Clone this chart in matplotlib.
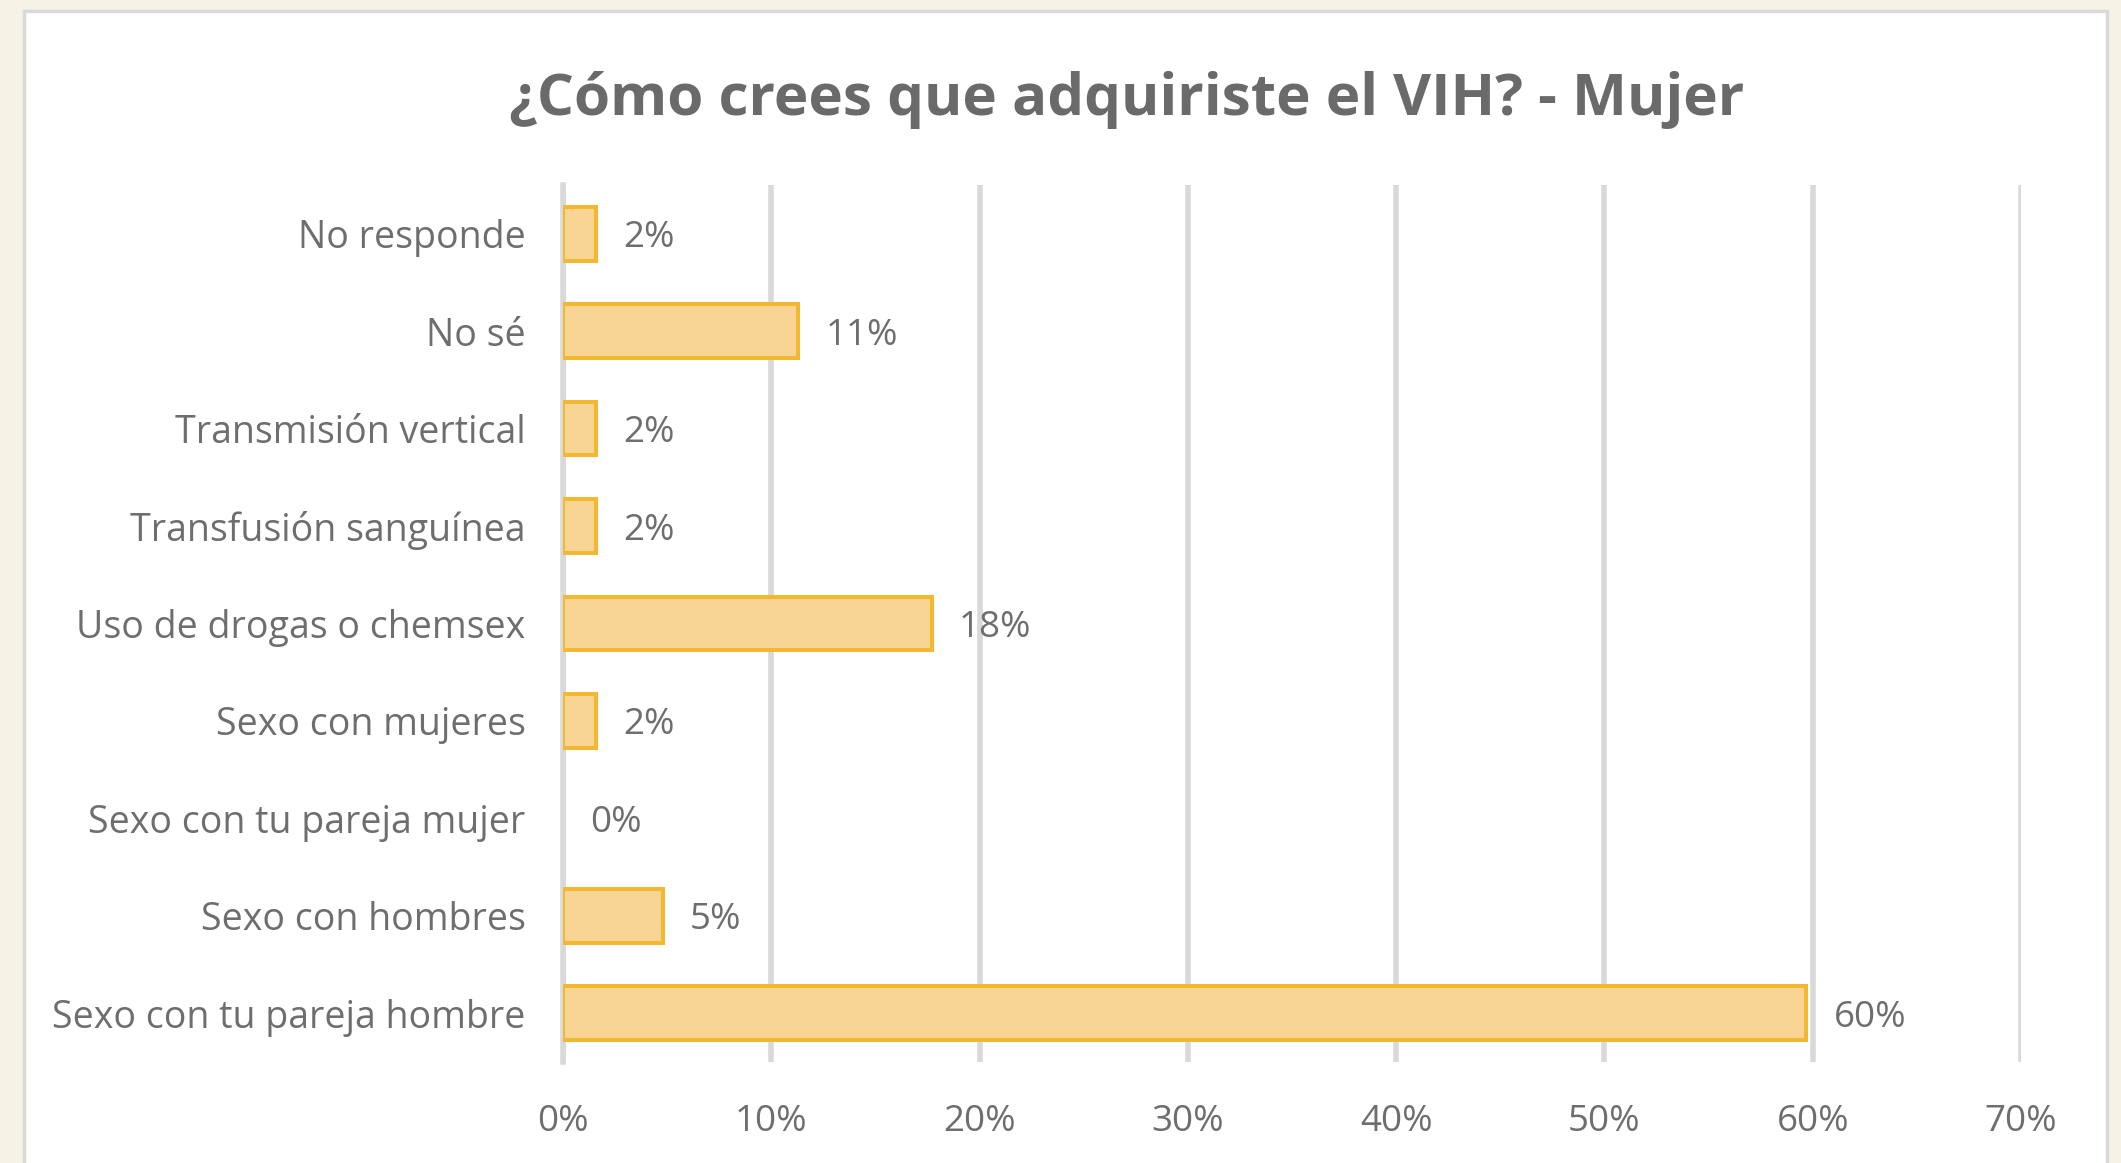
import matplotlib.pyplot as plt
from matplotlib.patches import Rectangle

# data, top to bottom
categories = ["No responde", "No sé", "Transmisión vertical", "Transfusión sanguínea",
              "Uso de drogas o chemsex", "Sexo con mujeres", "Sexo con tu pareja mujer",
              "Sexo con hombres", "Sexo con tu pareja hombre"]
values = [1.6, 11.3, 1.6, 1.6, 17.7, 1.6, 0.0, 4.8, 59.7]
value_labels = ["2%", "11%", "2%", "2%", "18%", "2%", "0%", "5%", "60%"]
x_ticks = [0, 10, 20, 30, 40, 50, 60, 70]
x_tick_labels = ["0%", "10%", "20%", "30%", "40%", "50%", "60%", "70%"]

text_color = "#6E6E6E"
plt.rcParams['font.family'] = ['Open Sans', 'DejaVu Sans']

fig = plt.figure(figsize=(21.21, 11.63), dpi=100)
fig.patch.set_facecolor("#F6F2E6")

# white chart area with thin grey border
fig.patches.append(Rectangle((24 / 2121, -0.05), (2107 - 24) / 2121, 1.05 - 11 / 1163,
                             transform=fig.transFigure, facecolor="white",
                             edgecolor="#D9D9D9", linewidth=2.5, zorder=-1))

ax = fig.add_axes([563 / 2121, 1 - 1062 / 1163, (2021 - 563) / 2121, (1062 - 185) / 1163])
ax.set_facecolor("none")
ax.set_zorder(1)

ypos = list(range(len(categories)))
# zero-length bars get no outline, like the original
edge_widths = [2.9 if v > 0 else 0 for v in values]
ax.barh(ypos, values, height=0.55, color="#F9D595", edgecolor="#F2B930",
        linewidth=edge_widths, zorder=3)

for y, v, lab in zip(ypos, values, value_labels):
    ax.text(v + 1.3, y, lab, va="center_baseline", ha="left", fontsize=26.5,
            color=text_color, zorder=4)

ax.set_xlim(0, 70)
ax.set_ylim(len(categories) - 0.5, -0.5)
ax.set_xticks(x_ticks)
ax.set_xticklabels(x_tick_labels)
ax.set_yticks(ypos)
ax.set_yticklabels(categories, va="center_baseline")

ax.grid(axis="x", color="#D9D9D9", linewidth=4, zorder=0)
ax.set_axisbelow(True)
for s in ["top", "right", "bottom"]:
    ax.spines[s].set_visible(False)
ax.spines["left"].set_color("#D9D9D9")
ax.spines["left"].set_linewidth(4)
ax.tick_params(axis="both", length=0, labelsize=26.5, labelcolor=text_color)
ax.tick_params(axis="y", labelsize=27, pad=27)
ax.tick_params(axis="x", pad=30)

fig.text(1127 / 2121, 1 - 100 / 1163, "¿Cómo crees que adquiriste el VIH? - Mujer",
         ha="center", va="center", fontsize=42, fontweight="bold", color="#6A6A6A")

fig.savefig("out.png", dpi=100)
